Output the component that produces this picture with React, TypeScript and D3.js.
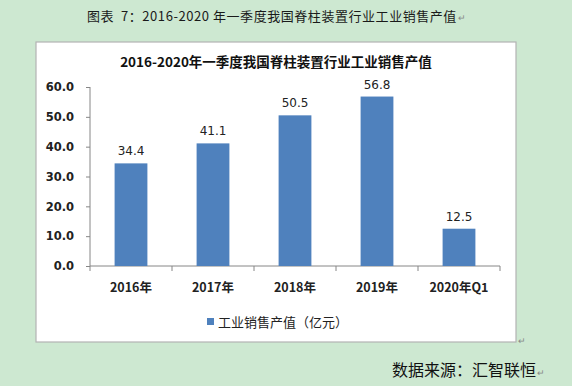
import { useEffect, useRef } from 'react'
import * as d3 from 'd3'

const CATEGORIES = ['2016年', '2017年', '2018年', '2019年', '2020年Q1']
const VALUES = [34.4, 41.1, 50.5, 56.8, 12.5]
const Y_TICKS = [0, 10, 20, 30, 40, 50, 60]

const W = 572
const H = 386
const BOX = { left: 36, top: 42, right: 516, bottom: 342 }
const PLOT = { left: 90, right: 500, top: 87, bottom: 266 }

const BG = '#cde8d1'
const BAR = '#4f81bd'
const AXIS = '#868686'
const TEXT = '#222'
const CJK = "'Noto Sans CJK SC', 'Noto Sans', sans-serif"
const NUM = "'DejaVu Sans', 'Liberation Sans', sans-serif"

export default function App() {
  const svgRef = useRef<SVGSVGElement>(null)

  useEffect(() => {
    const svg = svgRef.current
    if (!svg) return
    const sel = d3.select(svg)
    sel.selectAll('*').remove()

    sel.append('rect').attr('width', W).attr('height', H).attr('fill', BG)

    // caption above the chart
    sel.append('text')
      .attr('x', 87).attr('y', 21)
      .attr('font-family', CJK).attr('font-size', 13).attr('fill', '#1a1a1a')
      .attr('letter-spacing', 0.55)
      .text('图表\u00a0\u00a07：2016-2020 年一季度我国脊柱装置行业工业销售产值')
    sel.append('text')
      .attr('x', 458).attr('y', 21)
      .attr('font-family', CJK).attr('font-size', 9).attr('fill', '#888')
      .text('↵')

    // chart box
    sel.append('rect')
      .attr('x', BOX.left).attr('y', BOX.top)
      .attr('width', BOX.right - BOX.left).attr('height', BOX.bottom - BOX.top)
      .attr('fill', '#fff').attr('stroke', '#b3b3b3').attr('stroke-width', 1.2)
    sel.append('text')
      .attr('x', 518).attr('y', 344)
      .attr('font-family', CJK).attr('font-size', 9).attr('fill', '#888')
      .text('↵')

    sel.append('text')
      .attr('x', (BOX.left + BOX.right) / 2).attr('y', 67)
      .attr('text-anchor', 'middle')
      .attr('font-family', CJK).attr('font-size', 13.5).attr('font-weight', 'bold').attr('fill', '#111')
      .text('2016-2020年一季度我国脊柱装置行业工业销售产值')

    const x = d3.scaleBand<string>().domain(CATEGORIES).range([PLOT.left, PLOT.right]).paddingInner(0.6).paddingOuter(0.3)
    const y = d3.scaleLinear().domain([0, 60]).range([PLOT.bottom, PLOT.top])

    const g = sel.append('g')

    // y axis
    const yAxis = d3.axisLeft(y).tickValues(Y_TICKS).tickFormat((d) => d3.format('.1f')(d as number)).tickSize(4).tickPadding(12)
    g.append('g')
      .attr('transform', `translate(${PLOT.left},0)`)
      .call(yAxis)
      .call((a) => a.select('.domain').attr('stroke', AXIS).attr('d', `M0,${PLOT.top}V${PLOT.bottom}`))
      .call((a) => a.selectAll('.tick line').attr('stroke', AXIS))
      .call((a) => a.selectAll('.tick text').attr('fill', TEXT).attr('font-family', NUM).attr('font-size', 11.5).attr('font-weight', 'bold'))

    // x axis with ticks at category boundaries
    const bounds = d3.range(CATEGORIES.length + 1).map((i) => PLOT.left + i * (PLOT.right - PLOT.left) / CATEGORIES.length)
    g.append('line')
      .attr('x1', PLOT.left).attr('x2', PLOT.right)
      .attr('y1', PLOT.bottom).attr('y2', PLOT.bottom)
      .attr('stroke', AXIS)
    g.selectAll('.xtick').data(bounds).join('line')
      .attr('class', 'xtick')
      .attr('x1', (d) => d).attr('x2', (d) => d)
      .attr('y1', PLOT.bottom).attr('y2', PLOT.bottom + 5)
      .attr('stroke', AXIS)
    g.selectAll('.xlabel').data(CATEGORIES).join('text')
      .attr('class', 'xlabel')
      .attr('x', (d) => x(d)! + x.bandwidth() / 2)
      .attr('y', 292)
      .attr('text-anchor', 'middle')
      .attr('font-family', CJK).attr('font-size', 12.5).attr('font-weight', 'bold').attr('fill', TEXT)
      .text((d) => d)

    // bars
    g.selectAll('.bar').data(VALUES).join('rect')
      .attr('class', 'bar')
      .attr('x', (_, i) => x(CATEGORIES[i])!)
      .attr('width', x.bandwidth())
      .attr('y', (d) => y(d))
      .attr('height', (d) => y(0) - y(d))
      .attr('fill', BAR)

    g.selectAll('.val').data(VALUES).join('text')
      .attr('class', 'val')
      .attr('x', (_, i) => x(CATEGORIES[i])! + x.bandwidth() / 2)
      .attr('y', (d) => y(d) - 8)
      .attr('text-anchor', 'middle')
      .attr('font-family', NUM).attr('font-size', 12).attr('fill', TEXT)
      .text((d) => d3.format('.1f')(d))

    // legend
    const lg = sel.append('g').attr('transform', 'translate(207,322)')
    lg.append('rect').attr('x', 0).attr('y', -4).attr('width', 7).attr('height', 7).attr('fill', BAR)
    lg.append('text')
      .attr('x', 11).attr('y', 0).attr('dy', '0.35em')
      .attr('font-family', CJK).attr('font-size', 13).attr('fill', TEXT)
      .text('工业销售产值（亿元）')

    // source
    sel.append('text')
      .attr('x', 392).attr('y', 376)
      .attr('font-family', CJK).attr('font-size', 16).attr('fill', '#111')
      .text('数据来源：汇智联恒')
    sel.append('text')
      .attr('x', 537).attr('y', 376)
      .attr('font-family', CJK).attr('font-size', 9).attr('fill', '#888')
      .text('↵')
  }, [])

  return (
    <div style={{ position: 'fixed', left: 0, top: 0, width: W, height: H }}>
      <svg ref={svgRef} width={W} height={H} />
    </div>
  )
}
